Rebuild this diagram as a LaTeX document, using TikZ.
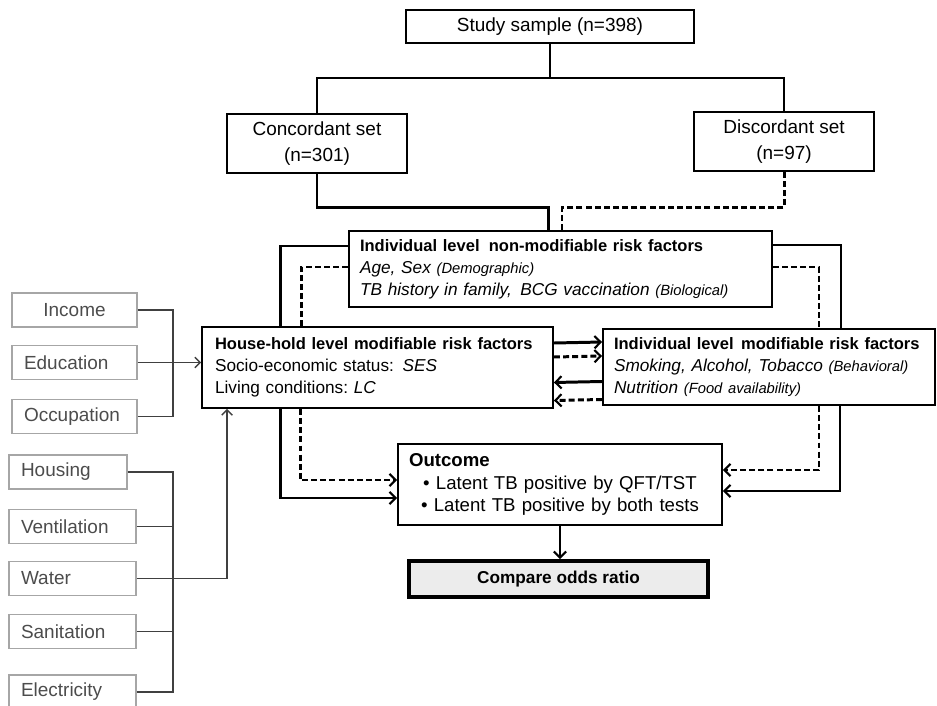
\documentclass[tikz,border=0pt]{standalone}
\usepackage{fontspec}
\setmainfont{Liberation Sans}
\usetikzlibrary{arrows.meta,calc}

\newcommand{\aside}[1]{{\fontsize{8.4}{10}\selectfont #1}}
\newcommand{\boxhead}[1]{\mbox{\bfseries\fontsize{9.4}{12.6}\selectfont #1}}

\tikzset{
  box/.style={draw, line width=1.1pt, inner sep=0pt, align=center,
    font=\fontsize{10.8}{14.5}\selectfont},
  riskbox/.style={box, inner xsep=0.26cm, align=left,
    font=\fontsize{9.8}{12.6}\selectfont},
  itembox/.style={draw=gray!70, line width=0.7pt, text=black!70, inner sep=0pt,
    inner xsep=0.24cm, align=left, minimum height=0.68cm,
    font=\fontsize{10.8}{13}\selectfont},
  split/.style={line width=0.9pt},
  strong/.style={line width=1.7pt},
  weak/.style={line width=1.7pt, dash pattern=on 3.4pt off 1.8pt},
  link/.style={draw=black!75, line width=0.8pt},
  arr/.style={-{Straight Barb[length=3.5pt,width=7pt,line width=1.2pt]}},
  thinarr/.style={-{Straight Barb[length=3pt,width=6pt,line width=0.8pt]}}
}

\begin{document}
\begin{tikzpicture}[x=0.02cm, y=-0.02cm]
  \useasboundingbox (0,0) rectangle (937,706);

  % sample and the two sets
  \node[box, minimum width=5.76cm, minimum height=0.66cm] (study) at (550,26.5) {Study sample (n=398)};
  \node[box, minimum width=3.6cm, minimum height=1.18cm] (conc) at (317,143.5) {Concordant set\\(n=301)};
  \node[box, minimum width=3.6cm, minimum height=1.18cm] (disc) at (784,141.5) {Discordant set\\(n=97)};

  % risk factor boxes
  \node[riskbox, inner xsep=0.22cm, text width=8.02cm, minimum height=1.52cm] (nonmod) at (560.5,269)
    {\boxhead{Individual level\hspace{2pt} non-modifiable risk factors}\\
     \textit{Age, Sex \aside{(Demographic)}}\\
     \textit{TB history in family,\, BCG vaccination \aside{(Biological)}}};
  \node[riskbox, text width=6.5cm, minimum height=1.62cm] (house) at (377.5,367.5)
    {\boxhead{House-hold level modifiable risk factors}\\
     Socio-economic status: \textit{SES}\\
     Living conditions:\ \textit{LC}};
  \node[riskbox, inner xsep=0.22cm, text width=6.2cm, minimum height=1.52cm] (indiv) at (769,367)
    {\boxhead{Individual level\hspace{1pt} modifiable risk factors}\\
     \textit{Smoking, Alcohol, Tobacco \aside{(Behavioral)}}\\
     \textit{Nutrition \aside{(Food availability)}}};

  % outcome
  \node[box, inner xsep=0.22cm, text width=6.04cm, minimum height=1.62cm,
        font=\fontsize{10.6}{13}\selectfont] (outcome) at (560,484.5)
    {\makebox[6.04cm][l]{\bfseries Outcome}\\
     • Latent TB positive by QFT/TST\\
     • Latent TB positive by both tests};
  \node[box, line width=2.2pt, fill=gray!15, minimum width=5.98cm, minimum height=0.72cm,
        font=\bfseries\fontsize{9.8}{12}\selectfont] (compare) at (558.5,579) {Compare odds ratio};

  % socio-economic items
  \node[itembox, text width=2.02cm, align=center] (income) at (74.5,310) {Income};
  \node[itembox, text width=2.02cm] (educ) at (74.5,362.5) {Education};
  \node[itembox, text width=2.02cm] (occup) at (74.5,416.5) {Occupation};

  % living condition items
  \node[itembox, text width=1.88cm] (housing) at (68,472) {Housing};
  \node[itembox, text width=2.06cm] (vent) at (72.5,526.5) {Ventilation};
  \node[itembox, text width=2.06cm] (water) at (72.5,578.5) {Water};
  \node[itembox, text width=2.06cm] (sanit) at (72.5,631.5) {Sanitation};
  \node[itembox, text width=2.06cm] (electric) at (72.5,692) {Electricity};

  % split of the sample
  \coordinate (fork) at (550,78);
  \draw[split] (study.south) -- (fork);
  \draw[split] (conc.north) |- (fork) -| (disc.north);

  % sets into the non-modifiable factors
  \coordinate (concin) at ([xshift=-0.25cm]nonmod.north);
  \coordinate (discin) at ([xshift=0.03cm]nonmod.north);
  \draw[strong] (conc.south) -- ++(0,34) -| (concin);
  \draw[weak] (disc.south) -- ++(0,36) -| (discin);

  % non-modifiable factors down both sides
  \draw[strong] ([yshift=0.46cm]nonmod.west) -| ([xshift=-1.95cm]house.north);
  \draw[weak] ([yshift=0.04cm]nonmod.west) -| ([xshift=-1.53cm]house.north);
  \draw[strong] ([yshift=0.48cm]nonmod.east) -| ([xshift=1.44cm]indiv.north);
  \draw[weak] ([yshift=0.04cm]nonmod.east) -| ([xshift=1.0cm]indiv.north);

  % between the modifiable factors
  \draw[strong,arr] ([yshift=0.49cm]house.east) -- ([yshift=0.5cm]indiv.west);
  \draw[weak,arr] ([yshift=0.21cm]house.east) -- ([yshift=0.22cm]indiv.west);
  \draw[strong,arr] ([yshift=-0.29cm]indiv.west) -- ([yshift=-0.3cm]house.east);
  \draw[weak,arr] ([yshift=-0.65cm]indiv.west) -- ([yshift=-0.66cm]house.east);

  % into the outcome
  \draw[strong,arr] ([xshift=-1.95cm]house.south) |- ([yshift=-0.27cm]outcome.west);
  \draw[weak,arr] ([xshift=-1.55cm]house.south) |- ([yshift=0.09cm]outcome.west);
  \draw[weak,arr] ([xshift=1.0cm]indiv.south) |- ([yshift=0.29cm]outcome.east);
  \draw[strong,arr] ([xshift=1.42cm]indiv.south) |- ([yshift=-0.13cm]outcome.east);
  \draw[split,arr] (outcome.south) -- (outcome.south |- compare.north);

  % items into the house-hold box
  \coordinate (sesjoin) at (173,362.5);
  \draw[link] (income.east) -| (sesjoin);
  \draw[link] (occup.east) -| (sesjoin);
  \draw[link,thinarr] (educ.east) -- (educ.east -| house.west);
  \coordinate (lcjoin) at (173,578.5);
  \draw[link] (housing.east) -| (lcjoin);
  \draw[link] (electric.east) -| (lcjoin);
  \draw[link] (vent.east) -- (vent.east -| lcjoin);
  \draw[link] (sanit.east) -- (sanit.east -| lcjoin);
  \draw[link,thinarr] (water.east) -| ([xshift=-3.01cm]house.south);
\end{tikzpicture}
\end{document}
